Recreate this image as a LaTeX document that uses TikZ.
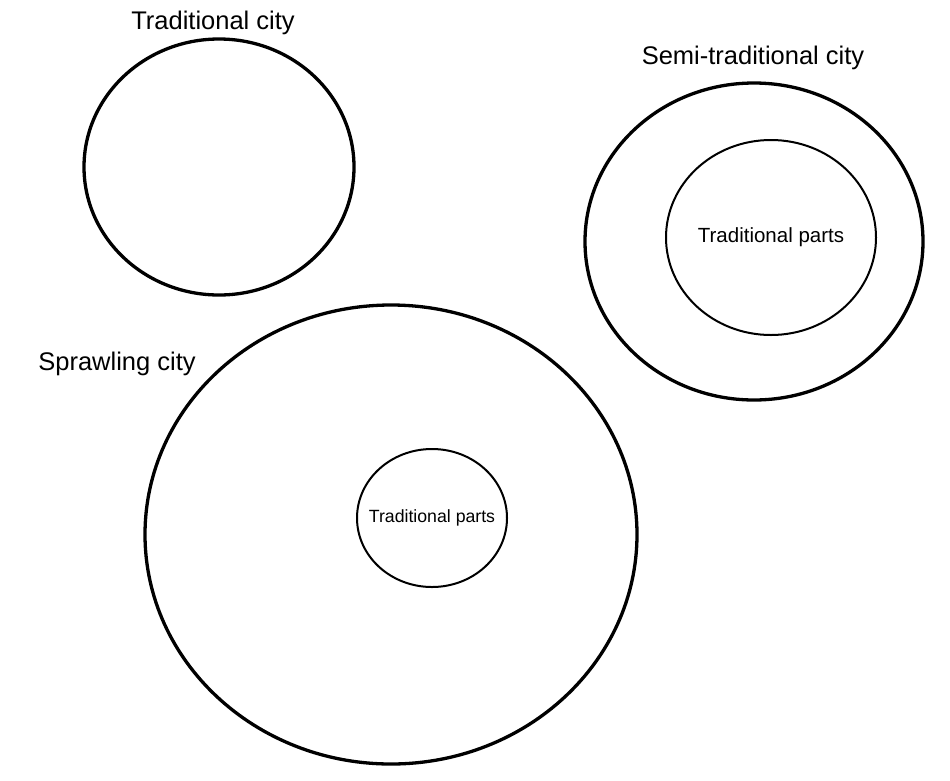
\documentclass[tikz,border=0pt]{standalone}
\usepackage{fontspec}
\setmainfont{Liberation Sans}
\usetikzlibrary{shapes.geometric,positioning}

\begin{document}
\begin{tikzpicture}[x=1pt,y=-1pt]
        \tikzstyle{city} = [line width=3.3pt, draw=black, ellipse, inner sep = 0pt]
        \tikzstyle{part} = [line width=2pt, draw=black, ellipse, inner sep = 0pt]
        \tikzstyle{lbl} = [inner sep = 0pt, font=\fontsize{25.5}{30}\selectfont]

        \useasboundingbox (0,0) rectangle (950,780);

        \node[city, minimum width=270pt, minimum height=256pt] (trad) at (219,167) {};
        \node[lbl] (tradlbl) at (213,23) {Traditional city};

        \node[city, minimum width=338pt, minimum height=317pt] (semi) at (754,241.5) {};
        \node[part, minimum width=210pt, minimum height=195pt,
              label={[font=\fontsize{20.5}{24}\selectfont]center:Traditional parts}] (semipart) at (771,237.5) {};
        \node[lbl] (semilbl) at (753,58) {Semi-traditional city};

        \node[city, minimum width=492pt, minimum height=459pt] (sprawl) at (391,534.5) {};
        \node[part, minimum width=150pt, minimum height=138pt,
              label={[font=\fontsize{17.7}{21}\selectfont]center:Traditional parts}] (sprawlpart) at (432,518) {};
        \node[lbl] (sprawllbl) at (117,364) {Sprawling city};
      \end{tikzpicture}
\end{document}
